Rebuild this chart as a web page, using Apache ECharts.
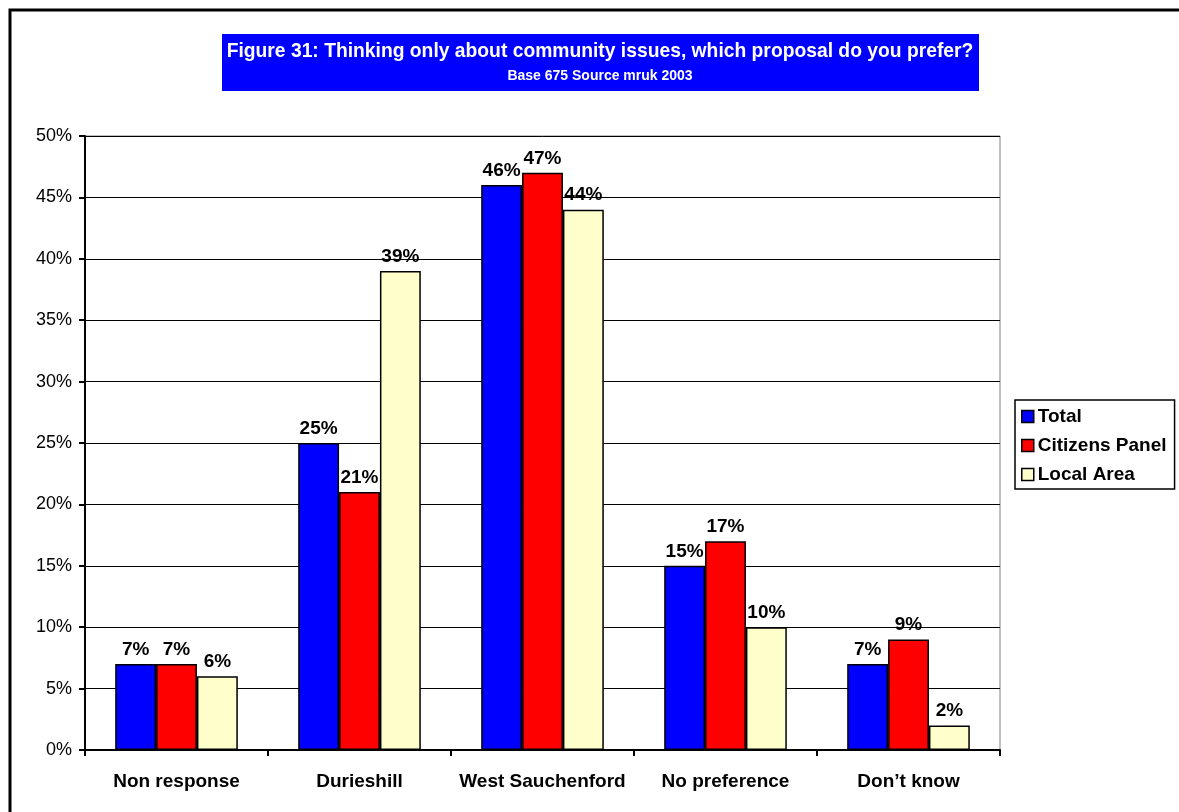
<!DOCTYPE html>
<html><head><meta charset="utf-8">
<script src="https://cdn.jsdelivr.net/npm/echarts@6/dist/echarts.min.js"></script>
<style>html,body{margin:0;padding:0;background:#fff}#c{width:1179px;height:812px}</style>
</head><body><div id="c"></div>
<script>
const categories = ['Non response', 'Durieshill', 'West Sauchenford', 'No preference', 'Don\u2019t know'];
const seriesNames = ['Total', 'Citizens Panel', 'Local Area'];
const total = [7, 25, 46, 15, 7];
const citizensPanel = [7, 21, 47, 17, 9];
const localArea = [6, 39, 44, 10, 2];
const colors = ['#0000FF', '#FF0000', '#FFFFCC'];
const titleText = 'Figure 31: Thinking only about community issues, which proposal do you prefer?';
const subtitleText = 'Base 675 Source mruk 2003';

const F = 'Liberation Sans, Arial, sans-serif';
const chart = echarts.init(document.getElementById('c'), null, {renderer: 'canvas'});
const mk = (name, data, i) => ({
  name, type: 'bar', data,
  barGap: '0%', barCategoryGap: '33%',
  itemStyle: {color: colors[i], borderColor: '#000', borderWidth: 1.5},
  label: {show: true, position: 'top', formatter: p => p.value + '%', fontFamily: F, fontWeight: 'bold', fontSize: 19, color: '#000', distance: 5},
  emphasis: {disabled: true}
});
chart.setOption({
  animation: false,
  graphic: [
    {type: 'rect', shape: {x: 10, y: 10, width: 1300, height: 900}, style: {fill: 'none', stroke: '#000', lineWidth: 3}, z: 100},
    {type: 'rect', shape: {x: 222, y: 34, width: 757, height: 57}, style: {fill: '#0000FF'}, z: 1},
    {type: 'text', x: 600, y: 52, style: {text: titleText, fill: '#fff', font: 'bold 19.3px ' + F, textAlign: 'center', textVerticalAlign: 'middle'}, z: 2},
    {type: 'text', x: 600, y: 76, style: {text: subtitleText, fill: '#fff', font: 'bold 14px ' + F, textAlign: 'center', textVerticalAlign: 'middle'}, z: 2},
    {type: 'rect', shape: {x: 85, y: 136, width: 915, height: 614}, style: {fill: 'none', stroke: '#808080', lineWidth: 1}, z: 0}
  ],
  legend: {
    orient: 'vertical', left: 1015, top: 400,
    data: seriesNames,
    itemWidth: 12, itemHeight: 12, itemGap: 10,
    borderColor: '#000', borderWidth: 1.5, padding: [7, 8, 5, 6],
    textStyle: {fontFamily: F, fontWeight: 'bold', fontSize: 19, lineHeight: 19, color: '#000', padding: [0, 0, 0, -1]},
    icon: 'rect',
    itemStyle: {borderColor: '#000', borderWidth: 1.5}
  },
  grid: {left: 85, right: 179, top: 136, bottom: 62, containLabel: false},
  xAxis: {
    type: 'category', data: categories,
    axisLine: {lineStyle: {color: '#000', width: 2}},
    axisTick: {show: true, interval: 0, length: 6, lineStyle: {color: '#000', width: 2}},
    axisLabel: {interval: 0, fontFamily: F, fontWeight: 'bold', fontSize: 19, color: '#000', margin: 22}
  },
  yAxis: {
    type: 'value', min: 0, max: 50, interval: 5,
    axisLine: {show: true, lineStyle: {color: '#000', width: 2}},
    axisTick: {show: true, length: 6, lineStyle: {color: '#000', width: 2}},
    axisLabel: {formatter: '{value}%', fontFamily: F, fontSize: 18, color: '#000', margin: 13},
    splitLine: {lineStyle: {color: '#000', width: 1}}
  },
  series: [mk(seriesNames[0], total, 0), mk(seriesNames[1], citizensPanel, 1), mk(seriesNames[2], localArea, 2)]
});
</script></body></html>
